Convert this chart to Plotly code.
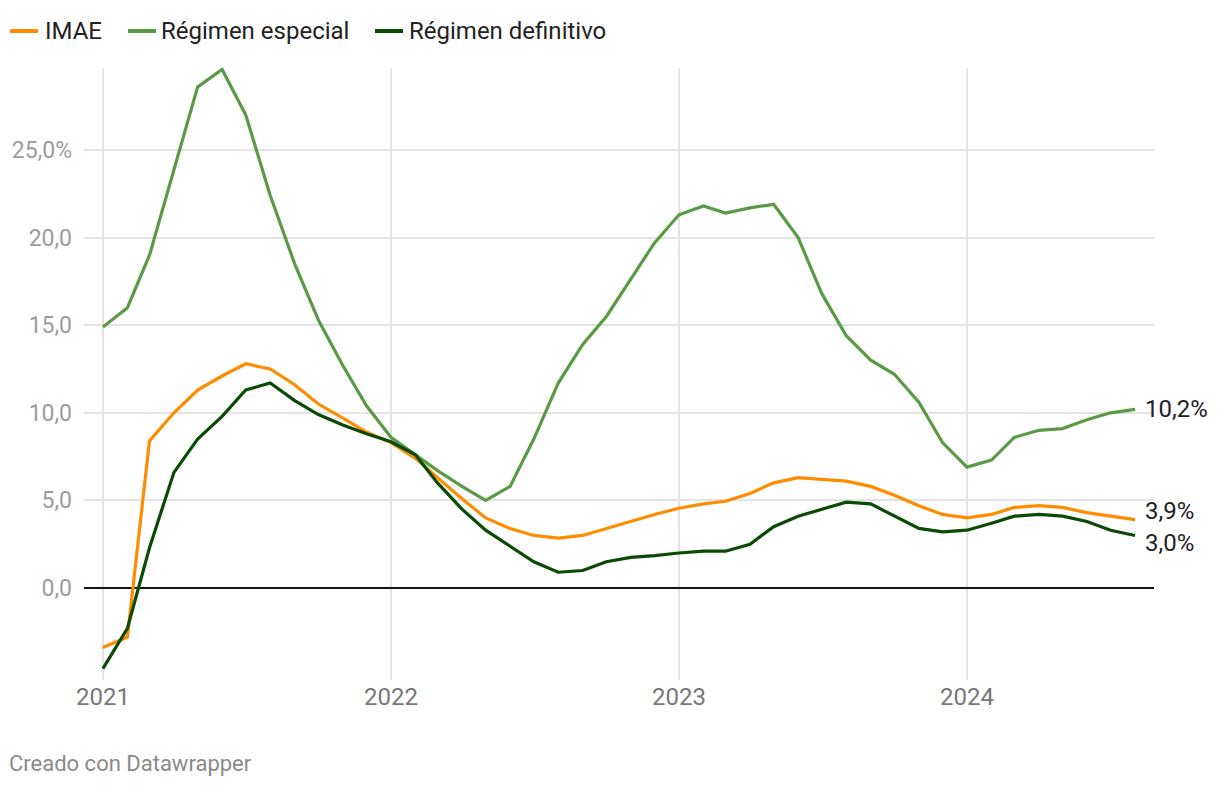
import pandas as pd
import plotly.graph_objects as go

# ---- data ----
meses = pd.date_range("2021-01-01", periods=44, freq="MS")
imae = [-3.4, -2.8, 8.4, 10.0, 11.3, 12.1, 12.8, 12.5, 11.6, 10.5, 9.7, 8.9,
        8.3, 7.4, 6.3, 5.1, 4.0, 3.4, 3.0, 2.85, 3.0, 3.4, 3.8, 4.2,
        4.55, 4.8, 4.95, 5.4, 6.0, 6.3, 6.2, 6.1, 5.8, 5.3, 4.7, 4.2,
        4.0, 4.2, 4.6, 4.7, 4.6, 4.3, 4.1, 3.9]
especial = [14.9, 16.0, 19.0, 23.8, 28.6, 29.6, 27.0, 22.4, 18.5, 15.3, 12.7, 10.4,
            8.6, 7.6, 6.7, 5.8, 5.0, 5.8, 8.5, 11.7, 13.9, 15.5, 17.6, 19.7,
            21.3, 21.8, 21.4, 21.7, 21.9, 20.0, 16.8, 14.4, 13.0, 12.2, 10.6, 8.3,
            6.9, 7.3, 8.6, 9.0, 9.1, 9.6, 10.0, 10.2]
definitivo = [-4.6, -2.3, 2.3, 6.6, 8.5, 9.8, 11.3, 11.7, 10.7, 9.9, 9.3, 8.8,
              8.35, 7.6, 6.0, 4.5, 3.3, 2.4, 1.5, 0.9, 1.0, 1.5, 1.75, 1.85,
              2.0, 2.1, 2.1, 2.5, 3.5, 4.1, 4.5, 4.9, 4.8, 4.1, 3.4, 3.2,
              3.3, 3.7, 4.1, 4.2, 4.1, 3.8, 3.3, 3.0]
series_names = ["IMAE", "Régimen especial", "Régimen definitivo"]
end_labels = ["3,9%", "10,2%", "3,0%"]
y_ticks = [0, 5, 10, 15, 20, 25]
y_ticktext = ["0,0", "5,0", "10,0", "15,0", "20,0", "25,0%"]
x_ticks = ["2021-01-01", "2022-01-01", "2023-01-01", "2024-01-01"]
x_ticktext = ["2021", "2022", "2023", "2024"]

colors = ["#FF8C00", "#5A9A46", "#0A4A05"]
FONT = "Roboto"

# page has an 8px body margin, so the figure is drawn 8px smaller
OFF = 8
W, H = 1220 - OFF, 786 - OFF
L, T = 84 - OFF, 68 - OFF
R = W - (1154 - OFF)
B = H - (680 - OFF)
PW, PH = W - L - R, H - T - B

def px(xp):
    return (xp - OFF - L) / PW

def py(yp):
    return (H - B - (yp - OFF)) / PH

fig = go.Figure()
for name, vals, col in zip(series_names, [imae, especial, definitivo], colors):
    fig.add_trace(go.Scatter(x=meses, y=vals, mode="lines", name=name,
                             line=dict(color=col, width=3.2), showlegend=False,
                             hoverinfo="skip"))

# end labels (nudged apart like the original)
yshifts = [9, 0, -8]
for vals, lab, sh in zip([imae, especial, definitivo], end_labels, yshifts):
    fig.add_annotation(x=meses[-1], y=vals[-1], text=lab, showarrow=False,
                       xanchor="left", yanchor="middle", xshift=8, yshift=sh,
                       font=dict(family=FONT, size=24, color="#222222"))

# manual legend
leg = [(10, 38, 43), (128, 156, 159), (375, 403, 407)]
ly = 31
for (x0, x1, tx), name, col in zip(leg, series_names, colors):
    fig.add_shape(type="line", xref="paper", yref="paper",
                  x0=px(x0), x1=px(x1), y0=py(ly), y1=py(ly),
                  line=dict(color=col, width=4))
    fig.add_annotation(xref="paper", yref="paper", x=px(tx), y=py(ly),
                       text=name, showarrow=False, xanchor="left", yanchor="middle",
                       font=dict(family=FONT, size=24, color="#222222"))

fig.add_annotation(xref="paper", yref="paper", x=px(7), y=py(763),
                   text="Creado con Datawrapper", showarrow=False,
                   xanchor="left", yanchor="middle",
                   font=dict(family=FONT, size=22, color="#8a8a8a"))

fig.update_xaxes(range=["2020-12-08", "2024-08-25"], tickvals=x_ticks,
                 ticktext=x_ticktext, showgrid=True, gridcolor="#e3e3e3",
                 gridwidth=1.5, zeroline=False, showline=False, ticks="",
                 automargin=False,
                 tickfont=dict(family=FONT, size=24, color="#777777"))
fig.update_yaxes(range=[-5.25, 29.68], tickvals=y_ticks, ticktext=y_ticktext,
                 showgrid=True, gridcolor="#e3e3e3", gridwidth=1.5,
                 zeroline=True, zerolinecolor="#111111", zerolinewidth=1.5,
                 showline=False, ticks="", ticklabelstandoff=11,
                 automargin=False,
                 tickfont=dict(family=FONT, size=23, color="#9c9c9c"))

fig.update_layout(width=W, height=H, margin=dict(l=L, r=R, t=T, b=B),
                  paper_bgcolor="white", plot_bgcolor="white",
                  font=dict(family=FONT))
fig.write_html("out.html")
